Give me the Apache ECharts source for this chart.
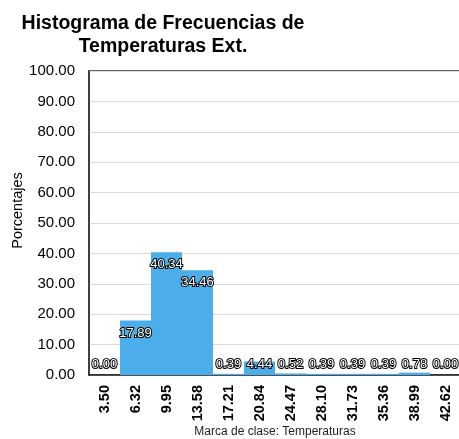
<!DOCTYPE html>
<html>
<head>
<meta charset="utf-8">
<script src="https://cdn.jsdelivr.net/npm/echarts@6/dist/echarts.min.js"></script>
<style>
    html, body { margin: 0; padding: 0; background: #fff; }
    #chart { width: 459px; height: 439px; }
</style>
</head>
<body>
<div id="chart"></div>
<script>
// class marks (x axis) and percentage per class
const classMarks = ['3.50', '6.32', '9.95', '13.58', '17.21', '20.84', '24.47', '28.10', '31.73', '35.36', '38.99', '42.62'];
const percentages = [0.00, 17.89, 40.34, 34.46, 0.39, 4.44, 0.52, 0.39, 0.39, 0.39, 0.78, 0.00];
const yTicks = { min: 0, max: 100, interval: 10 };

const FONT = '"Liberation Sans", Arial, sans-serif';

const chart = echarts.init(document.getElementById('chart'));

const option = {
    animation: false,
    title: {
        text: 'Histograma de Frecuencias de\nTemperaturas Ext.',
        left: 158,
        top: 7,
        textAlign: 'center',
        textStyle: {
            fontFamily: FONT,
            fontSize: 19.5,
            fontWeight: 'bold',
            color: '#000',
            lineHeight: 23
        }
    },
    grid: {
        left: 89,
        top: 71,
        width: 372,
        bottom: 64,
        outerBoundsMode: 'none',
        containLabel: false,
        show: true,
        borderColor: '#333',
        borderWidth: 1.5
    },
    xAxis: {
        type: 'category',
        data: classMarks,
        name: 'Marca de clase: Temperaturas',
        nameLocation: 'middle',
        nameGap: 51,
        nameMoveOverlap: false,
        nameTextStyle: { fontFamily: FONT, fontSize: 12, color: '#222' },
        axisLine: { lineStyle: { color: '#222', width: 1.5 } },
        axisTick: { show: false },
        axisLabel: {
            rotate: 90,
            margin: 10,
            interval: 0,
            fontFamily: FONT,
            fontSize: 14.5,
            fontWeight: 'bold',
            color: '#000'
        }
    },
    yAxis: {
        type: 'value',
        min: yTicks.min,
        max: yTicks.max,
        interval: yTicks.interval,
        name: 'Porcentajes',
        nameLocation: 'middle',
        nameGap: 64,
        nameMoveOverlap: false,
        nameTextStyle: { fontFamily: FONT, fontSize: 14.5, color: '#000', padding: [0, 0, 0, 25] },
        axisLine: { show: true, lineStyle: { color: '#333', width: 1.5 } },
        axisTick: { show: false },
        splitLine: { lineStyle: { color: '#d9d9d9', width: 1 } },
        axisLabel: {
            margin: 14,
            fontFamily: FONT,
            fontSize: 15,
            color: '#000',
            formatter: v => v.toFixed(2)
        }
    },
    series: [{
        type: 'bar',
        barCategoryGap: '0%',
        itemStyle: { color: '#4badea' },
        label: {
            show: true,
            fontFamily: FONT,
            fontSize: 13,
            color: '#fff',
            textBorderColor: '#000',
            textBorderWidth: 2,
            formatter: p => p.value.toFixed(2)
        },
        data: percentages.map(v => ({
            value: v,
            label: v >= 10
                ? { position: 'insideTop', distance: 6 }
                : { position: 'insideBottom', distance: 4 }
        }))
    }]
};

chart.setOption(option);
window.addEventListener('resize', () => chart.resize());
</script>
</body>
</html>
